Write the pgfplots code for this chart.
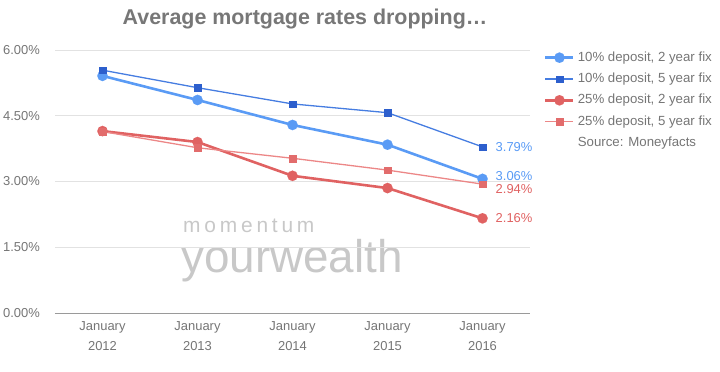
\documentclass[border=0pt]{standalone}
\usepackage{fontspec}
\setmainfont{Liberation Sans}
\usepackage{pgfplots}
\pgfplotsset{compat=1.18}
\definecolor{txt}{HTML}{757575}
\definecolor{titlec}{HTML}{777777}
\definecolor{wm}{HTML}{C8C8C8}
\definecolor{gridc}{HTML}{E2E2E2}
\definecolor{axisc}{HTML}{9A9A9A}
\definecolor{blueA}{RGB}{90,155,245}
\definecolor{blueBl}{RGB}{70,125,225}
\definecolor{blueBm}{RGB}{45,95,205}
\definecolor{redA}{RGB}{224,98,98}
\definecolor{redBl}{RGB}{236,135,135}
\definecolor{redBm}{RGB}{226,108,108}
\begin{document}
\begin{tikzpicture}[x=1bp,y=1bp]
\path[use as bounding box] (-55,-58) rectangle (665,313);
\node[font=\bfseries\fontsize{21.5}{25}\selectfont, text=titlec] at (250,294) {Average mortgage rates dropping…};
% watermark
\node[anchor=base west, inner sep=0, text=wm, font=\fontsize{21}{21}\selectfont] at (128,81)
  {m\kern3.8bp o\kern3.8bp m\kern3.8bp e\kern3.8bp n\kern3.8bp t\kern3.8bp u\kern3.8bp m};
\node[anchor=base west, inner sep=0, text=wm, font=\fontsize{46}{46}\selectfont] at (126,41) {yourwealth};
\begin{axis}[
  at={(0,0)}, anchor=south west,
  scale only axis, width=475bp, height=263bp,
  xmin=-0.5, xmax=4.5, ymin=0, ymax=6,
  xtick={0,1,2,3,4},
  xticklabels={{January\\2012},{January\\2013},{January\\2014},{January\\2015},{January\\2016}},
  ytick={0,1.5,3,4.5,6},
  yticklabel={\pgfmathprintnumber[fixed,fixed zerofill,precision=2]{\tick}\%},
  /pgf/number format/assume math mode=true,
  ymajorgrids, grid style={gridc, line width=0.8bp},
  axis line style={draw=none},
  major tick length=0,
  tick label style={text=txt, font=\fontsize{13}{20}\selectfont},
  xticklabel style={align=center, anchor=north, inner sep=0, yshift=-8bp},
  yticklabel style={anchor=east, inner sep=0, xshift=-15bp},
  legend style={draw=none, fill=none, at={(1,1)}, anchor=north west, xshift=11bp, yshift=3bp,
    font=\fontsize{13.3}{15}\selectfont, text=txt, row sep=4.3bp,
    nodes={text height=10bp, text depth=3bp, inner ysep=2bp, inner xsep=3bp}},
  legend cell align=left,
  legend image code/.code={\draw[mark repeat=2,mark phase=2] plot coordinates {(0bp,0bp) (14bp,0bp) (28bp,0bp)};},
  clip=false,
]
\draw[axisc, line width=1bp] (rel axis cs:0,0) -- (rel axis cs:1,0);
\addplot[blueA, line width=2.6bp, mark=*, mark size=5.2bp, mark options={fill=blueA, draw=blueA, line width=0.1bp}]
  coordinates {(0,5.41) (1,4.86) (2,4.29) (3,3.84) (4,3.06)};
\addlegendentry{10\% deposit, 2 year fix}
\addplot[blueBl, line width=1.3bp, mark=square*, mark size=3.3bp, mark options={fill=blueBm, draw=blueBm, line width=0.1bp}]
  coordinates {(0,5.54) (1,5.14) (2,4.77) (3,4.57) (4,3.79)};
\addlegendentry{10\% deposit, 5 year fix}
\addplot[redA, line width=2.6bp, mark=*, mark size=5.2bp, mark options={fill=redA, draw=redA, line width=0.1bp}]
  coordinates {(0,4.15) (1,3.90) (2,3.13) (3,2.85) (4,2.16)};
\addlegendentry{25\% deposit, 2 year fix}
\addplot[redBl, line width=1.3bp, mark=square*, mark size=3.3bp, mark options={fill=redBm, draw=redBm, line width=0.1bp}]
  coordinates {(0,4.14) (1,3.77) (2,3.53) (3,3.26) (4,2.94)};
\addlegendentry{25\% deposit, 5 year fix}
\addlegendimage{empty legend}
\addlegendentry{Source: Moneyfacts}
\node[anchor=west, inner sep=0, xshift=13bp, text=blueA, font=\fontsize{13}{15}\selectfont] at (axis cs:4,3.79) {3.79\%};
\node[anchor=west, inner sep=0, xshift=13bp, yshift=3bp, text=blueA, font=\fontsize{13}{15}\selectfont] at (axis cs:4,3.06) {3.06\%};
\node[anchor=west, inner sep=0, xshift=13bp, yshift=-5bp, text=redA, font=\fontsize{13}{15}\selectfont] at (axis cs:4,2.94) {2.94\%};
\node[anchor=west, inner sep=0, xshift=13bp, text=redA, font=\fontsize{13}{15}\selectfont] at (axis cs:4,2.16) {2.16\%};
\end{axis}
\end{tikzpicture}
\end{document}
